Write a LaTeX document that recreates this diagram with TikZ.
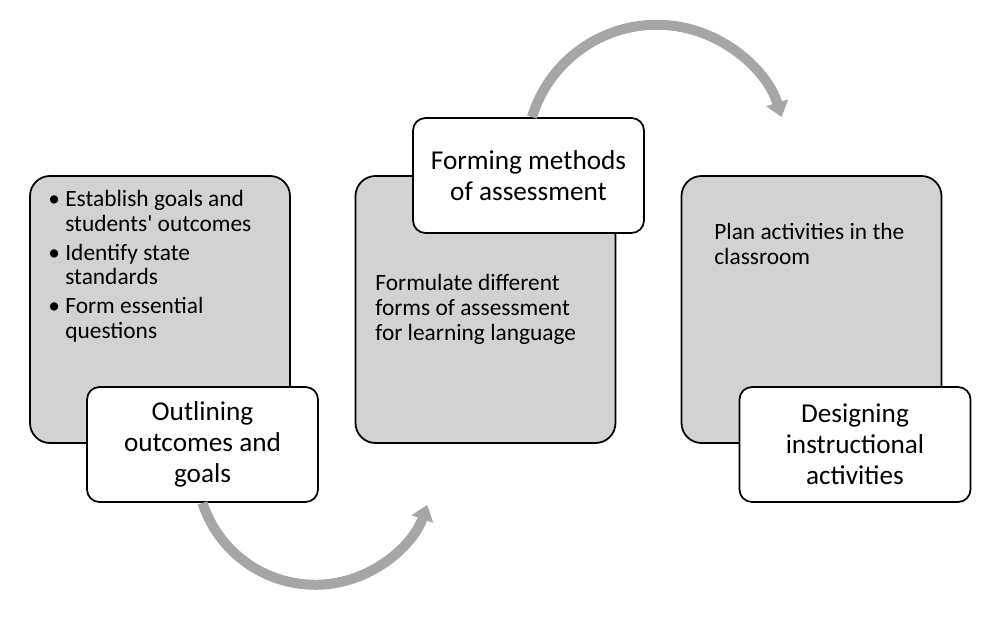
\documentclass[tikz,border=0pt]{standalone}
\usepackage{fontspec}
\setmainfont{Carlito}
\usetikzlibrary{arrows.meta}
\newcommand\itm{\makebox[0.34cm][l]{\textbullet}}
\newcommand\gap{\hspace*{0.34cm}}
\tikzset{
  back/.style={draw, line width=1pt, fill=gray!35, rounded corners=0.4cm, minimum width=5.2cm, minimum height=5.34cm},
  title/.style={draw, line width=1pt, fill=white, rounded corners=0.25cm, minimum width=4.62cm, minimum height=2.3cm, align=center, font=\fontsize{15.5}{17.6}\selectfont},
  body/.style={inner sep=0pt, align=left, anchor=north west, font=\fontsize{13.3}{14.2}\selectfont},
  flow/.style={draw=gray!70, line width=0.2cm, -{Triangle[width=0.44cm,length=0.3cm]}}
}
\begin{document}
\begin{tikzpicture}
        \useasboundingbox (0,0) rectangle (20,12.6);
        \node[back] (outline) at (3.2,6.41) {};
        \node[back] (assess) at (9.71,6.41) {};
        \node[back] (design) at (16.23,6.41) {};
        \node[body] (outlineText) at (0.96,8.8) {\itm Establish goals and\\ \gap students\textquotesingle{} outcomes\\[2pt]
            \itm Identify state\\ \gap standards\\[2pt]
            \itm Form essential\\ \gap questions};
        \node[body] (assessText) at (7.5,7.12) {Formulate different\\ forms of assessment\\ for learning language};
        \node[body] (designText) at (14.28,8.14) {Plan activities in the\\ classroom};
        \node[title] (outlineTitle) at (4.05,3.71) {Outlining\\ outcomes and\\ goals};
        \node[title] (assessTitle) at (10.57,9.09) {Forming methods\\ of assessment};
        \node[title] (designTitle) at (17.1,3.71) {Designing\\ instructional\\ activities};
        % curved arrows between the steps
        \draw[flow] (outlineTitle.south) arc[start angle=198, end angle=341, radius=2.37];
        \draw[flow] ([xshift=0.07cm]assessTitle.north) arc[start angle=163, end angle=17, radius=2.61];
\end{tikzpicture}
\end{document}
